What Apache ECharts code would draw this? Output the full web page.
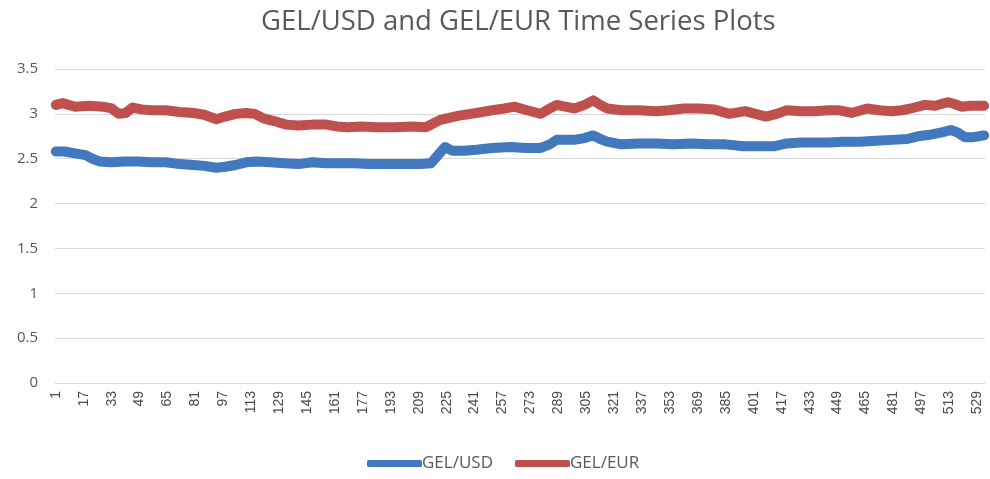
<!DOCTYPE html>
<html>
<head>
<meta charset="utf-8">
<script src="https://cdn.jsdelivr.net/npm/echarts@6/dist/echarts.min.js"></script>
<style>
  html, body { margin: 0; padding: 0; background: #fff; }
  #chart { width: 990px; height: 479px; }
</style>
</head>
<body>
<div id="chart"></div>
<script>
// Observation numbers along the x axis (1 .. 533)
const obsCount = 533;
const categories = [];
for (let i = 1; i <= obsCount; i++) categories.push(String(i));

// GEL/USD rate at selected observations: [observation, rate]
const gelUsd = [
  [1, 2.58], [6, 2.58], [12, 2.56], [18, 2.54], [22, 2.50], [26, 2.47], [33, 2.46],
  [40, 2.47], [48, 2.47], [56, 2.46], [64, 2.46], [72, 2.44], [80, 2.43], [86, 2.42],
  [93, 2.40], [98, 2.41], [104, 2.43], [110, 2.46], [116, 2.47], [124, 2.46], [132, 2.45],
  [140, 2.44], [148, 2.46], [156, 2.45], [164, 2.45], [172, 2.45], [180, 2.44], [190, 2.44],
  [200, 2.44], [210, 2.44], [216, 2.45], [220, 2.54], [224, 2.63], [228, 2.59], [235, 2.59],
  [242, 2.60], [251, 2.62], [262, 2.63], [270, 2.62], [279, 2.62], [284, 2.66], [288, 2.71],
  [298, 2.71], [304, 2.73], [309, 2.76], [313, 2.72], [317, 2.69], [325, 2.66], [335, 2.67],
  [345, 2.67], [355, 2.66], [365, 2.67], [375, 2.66], [385, 2.66], [395, 2.64], [405, 2.64],
  [413, 2.64], [420, 2.67], [428, 2.68], [436, 2.68], [444, 2.68], [452, 2.69], [462, 2.69],
  [471, 2.70], [480, 2.71], [489, 2.72], [495, 2.75], [503, 2.77], [510, 2.80], [514, 2.82],
  [518, 2.79], [522, 2.74], [527, 2.74], [533, 2.76]
];

// GEL/EUR rate at selected observations: [observation, rate]
const gelEur = [
  [1, 3.10], [5, 3.12], [12, 3.08], [20, 3.09], [28, 3.08], [33, 3.06], [37, 3.00],
  [41, 3.01], [45, 3.07], [50, 3.05], [56, 3.04], [64, 3.04], [72, 3.02], [80, 3.01],
  [86, 2.99], [93, 2.94], [98, 2.97], [104, 3.00], [110, 3.01], [115, 3.00], [120, 2.95],
  [126, 2.92], [133, 2.88], [140, 2.87], [148, 2.88], [156, 2.88], [162, 2.86], [168, 2.85],
  [176, 2.86], [185, 2.85], [195, 2.85], [205, 2.86], [213, 2.85], [217, 2.89], [221, 2.93],
  [225, 2.95], [232, 2.98], [242, 3.01], [251, 3.04], [258, 3.06], [264, 3.08], [271, 3.04],
  [279, 3.00], [284, 3.06], [288, 3.10], [298, 3.06], [304, 3.10], [309, 3.15], [313, 3.10],
  [317, 3.06], [325, 3.04], [335, 3.04], [345, 3.03], [352, 3.04], [361, 3.06], [370, 3.06],
  [378, 3.05], [387, 3.00], [396, 3.03], [402, 3.00], [408, 2.97], [414, 3.00], [420, 3.04],
  [428, 3.03], [436, 3.03], [444, 3.04], [450, 3.04], [457, 3.01], [466, 3.06], [473, 3.04],
  [480, 3.03], [486, 3.04], [491, 3.06], [499, 3.10], [505, 3.09], [512, 3.13], [516, 3.11],
  [520, 3.08], [525, 3.09], [533, 3.09]
];

const toSeries = pts => pts.map(([n, v]) => [String(n), v]);

const chart = echarts.init(document.getElementById('chart'), null, { renderer: 'canvas' });
chart.setOption({
  animation: false,
  backgroundColor: '#ffffff',
  title: {
    text: 'GEL/USD and GEL/EUR Time Series Plots',
    left: 256,
    top: 3,
    textStyle: { fontFamily: 'Open Sans', fontSize: 27.5, fontWeight: 'normal', color: '#595959' }
  },
  legend: {
    bottom: 2,
    left: 362,
    icon: 'roundRect',
    itemWidth: 55,
    itemHeight: 7,
    itemGap: 22,
    textStyle: { fontFamily: 'Open Sans', fontSize: 17, color: '#595959', padding: [0, 0, 0, -5] },
    data: ['GEL/USD', 'GEL/EUR']
  },
  grid: { left: 55, right: 5, top: 69, bottom: 96, containLabel: false },
  xAxis: {
    type: 'category',
    data: categories,
    boundaryGap: true,
    axisLine: { lineStyle: { color: '#d9d9d9', width: 1 } },
    axisTick: { show: false },
    axisLabel: {
      interval: 15,
      rotate: 90,
      fontFamily: 'Liberation Sans',
      fontSize: 14,
      color: '#4a4a4a',
      margin: 8
    }
  },
  yAxis: {
    type: 'value',
    min: 0,
    max: 3.5,
    interval: 0.5,
    axisLine: { show: false },
    axisTick: { show: false },
    splitLine: { lineStyle: { color: '#d9d9d9', width: 1 } },
    axisLabel: { fontFamily: 'Open Sans', fontSize: 15, color: '#595959', margin: 17 }
  },
  series: [
    {
      name: 'GEL/USD',
      type: 'line',
      data: toSeries(gelUsd),
      showSymbol: false,
      lineStyle: { color: '#4178be', width: 10, cap: 'round', join: 'round' },
      itemStyle: { color: '#4178be' }
    },
    {
      name: 'GEL/EUR',
      type: 'line',
      data: toSeries(gelEur),
      showSymbol: false,
      lineStyle: { color: '#c0504d', width: 10, cap: 'round', join: 'round' },
      itemStyle: { color: '#c0504d' }
    }
  ]
});
</script>
</body>
</html>
